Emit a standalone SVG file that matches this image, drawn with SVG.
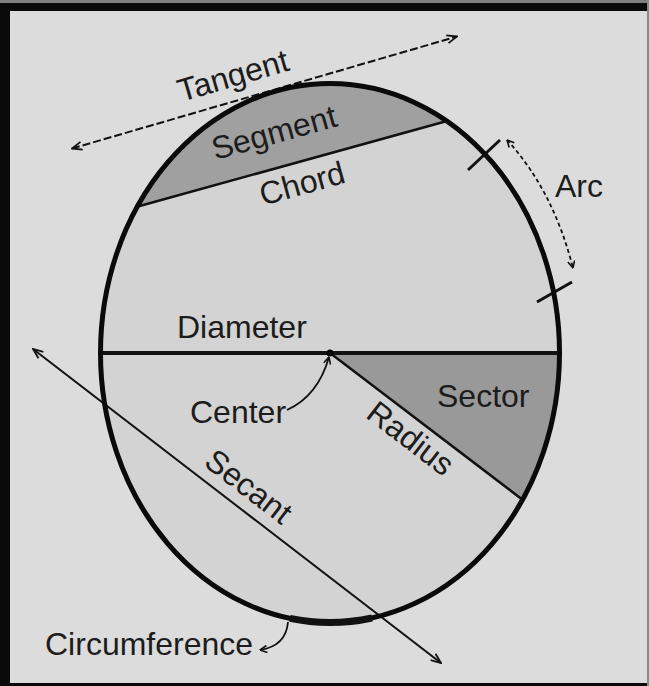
<svg xmlns="http://www.w3.org/2000/svg" width="649" height="686" viewBox="0 0 649 686">
<defs>
<style>
.lbl{font-family:"Liberation Sans",Arial,Helvetica,sans-serif;font-size:32px;fill:#1c1c1c}
.ln{fill:none;stroke:#111;stroke-linecap:butt}
</style>
<marker id="ah" viewBox="0 0 12 10" refX="11" refY="5" markerWidth="12" markerHeight="10" markerUnits="userSpaceOnUse" orient="auto-start-reverse">
<path d="M1,1 L11,5 L1,9" fill="none" stroke="#111" stroke-width="1.8"/>
</marker>
<marker id="as" viewBox="0 0 8 8" refX="7.5" refY="4" markerWidth="8" markerHeight="8" markerUnits="userSpaceOnUse" orient="auto-start-reverse">
<path d="M0.5,0.5 L7.5,4 L0.5,7.5" fill="none" stroke="#111" stroke-width="1.6"/>
</marker>
</defs>
<rect width="649" height="686" fill="#dcdcdc"/>
<g id="frame">
<rect x="0" y="0" width="649" height="3" fill="#808080"/>
<rect x="0" y="3" width="648" height="8" fill="#0a0a0a"/>
<rect x="0" y="3" width="10" height="683" fill="#0a0a0a"/>
<rect x="0" y="683" width="649" height="3" fill="#0a0a0a"/>
<rect x="647" y="0" width="2" height="686" fill="#8a8a8a"/>
</g>
<g id="circle-fill">
<ellipse cx="330" cy="353" rx="229.5" ry="269.5" fill="#d3d3d3"/>
</g>
<g id="segment">
<path d="M136,207 A229.5,269.5 0 0,1 447,121 Z" fill="#a0a0a0"/>
</g>
<g id="sector">
<path d="M330,353 L559.5,353 A229.5,269.5 0 0,1 522.5,499.7 Z" fill="#999999"/>
</g>
<g id="connectors">
<line class="ln" x1="136" y1="207" x2="447" y2="121" stroke-width="2.5"/>
<line class="ln" x1="100.5" y1="353" x2="559.5" y2="353" stroke-width="4"/>
<line class="ln" x1="330" y1="353" x2="522.5" y2="499.7" stroke-width="2.5"/>
<line class="ln" x1="72" y1="148.5" x2="457" y2="36.5" stroke-width="2" stroke-dasharray="8,3" marker-start="url(#ah)" marker-end="url(#ah)"/>
<line class="ln" x1="33" y1="349" x2="441" y2="663" stroke-width="2" marker-start="url(#ah)" marker-end="url(#ah)"/>
<path class="ln" d="M507,140 Q553,190 573,268" stroke-width="1.8" stroke-dasharray="4,3" marker-start="url(#as)" marker-end="url(#as)"/>
<path class="ln" d="M287,410 Q318,396 329,357" stroke-width="1.8" marker-end="url(#as)"/>
<path class="ln" d="M288,622 Q286,646 260,650" stroke-width="1.8" marker-end="url(#as)"/>
<line class="ln" x1="468" y1="170" x2="500" y2="140" stroke-width="3"/>
<line class="ln" x1="537" y1="302" x2="572" y2="282" stroke-width="3"/>
</g>
<g id="circumference">
<ellipse cx="330" cy="353" rx="229.5" ry="269.5" fill="none" stroke="#0a0a0a" stroke-width="5"/>
<path d="M290,618.4 A229.5,269.5 0 0,0 372,618" fill="none" stroke="#111" stroke-width="7"/>
</g>
<g id="center">
<circle cx="330" cy="353" r="3.5" fill="#000"/>
</g>
<g id="labels">
<text class="lbl" x="236" y="86" text-anchor="middle" transform="rotate(-16.2 236 86)">Tangent</text>
<text class="lbl" x="277" y="143" text-anchor="middle" transform="rotate(-15.5 277 143)">Segment</text>
<text class="lbl" x="305" y="194" text-anchor="middle" transform="rotate(-15.5 305 194)">Chord</text>
<text class="lbl" x="555" y="197">Arc</text>
<text class="lbl" x="177" y="338">Diameter</text>
<text class="lbl" x="190" y="423">Center</text>
<text class="lbl" x="437" y="407">Sector</text>
<text class="lbl" x="404" y="447" text-anchor="middle" transform="rotate(37.5 404 447)">Radius</text>
<text class="lbl" x="242" y="495" text-anchor="middle" transform="rotate(37.5 242 495)">Secant</text>
<text class="lbl" x="45" y="655">Circumference</text>
</g>
</svg>
